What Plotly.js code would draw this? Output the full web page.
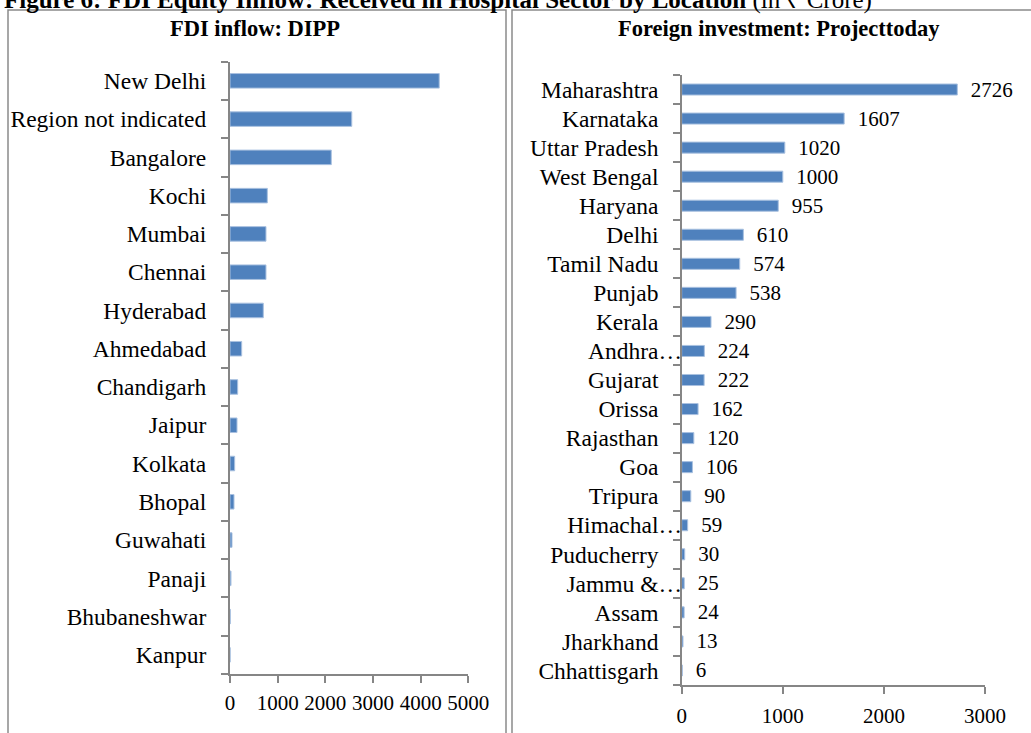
<!DOCTYPE html>
<html>
<head>
<meta charset="utf-8">
<script src="https://cdn.plot.ly/plotly-3.0.1.min.js"></script>
<style>html,body{margin:0;padding:0;background:#fff;}#chart{width:1031px;height:733px;}</style>
</head>
<body>
<div id="chart"></div>
<script>
// ---- Data ----
const dippCities = ["New Delhi","Region not indicated","Bangalore","Kochi","Mumbai","Chennai","Hyderabad","Ahmedabad","Chandigarh","Jaipur","Kolkata","Bhopal","Guwahati","Panaji","Bhubaneshwar","Kanpur"];
const dippValues = [4390, 2555, 2125, 783, 755, 755, 699, 245, 161, 147, 98, 84, 42, 21, 5, 2];

const ptStates = ["Maharashtra","Karnataka","Uttar Pradesh","West Bengal","Haryana","Delhi","Tamil Nadu","Punjab","Kerala","Andhra…","Gujarat","Orissa","Rajasthan","Goa","Tripura","Himachal…","Puducherry","Jammu &…","Assam","Jharkhand","Chhattisgarh"];
const ptValues = [2726, 1607, 1020, 1000, 955, 610, 574, 538, 290, 224, 222, 162, 120, 106, 90, 59, 30, 25, 24, 13, 6];

const dippTicks = [0, 1000, 2000, 3000, 4000, 5000];
const ptTicks = [0, 1000, 2000, 3000];

const figureTitle = "<b>Figure 6: FDI Equity Inflow: Received in Hospital Sector by Location</b> (in ₹ Crore)";
const leftTitle = "<b>FDI inflow: DIPP</b>";
const rightTitle = "<b>Foreign investment: Projecttoday</b>";

// ---- Layout helpers ----
const W = 1031, H = 733;
const px = v => v / W;
const py = v => 1 - v / H;
const FONT = "Liberation Serif, Times New Roman, serif";
const AXC = "#868686";
const BAR = "#4F81BD";
const CAT_SIZE = 23.5;
const NUM_SIZE = 21;

const traces = [
  {
    type: "bar", orientation: "h",
    x: dippValues, y: dippCities,
    xaxis: "x", yaxis: "y",
    marker: {color: BAR, line: {color: "#A9C1E0", width: 1}},
    hoverinfo: "x+y"
  },
  {
    type: "bar", orientation: "h",
    x: ptValues, y: ptStates,
    xaxis: "x2", yaxis: "y2",
    marker: {color: BAR, line: {color: "#A9C1E0", width: 1}},
    text: ptValues.map(String),
    texttemplate: "\u00a0\u00a0%{text}",
    textposition: "outside",
    constraintext: "none",
    cliponaxis: false,
    textfont: {family: FONT, size: NUM_SIZE, color: "#000"},
    hoverinfo: "x+y"
  }
];

const yCommon = {
  type: "category",
  autorange: "reversed",
  showline: true, linecolor: AXC, linewidth: 2,
  ticks: "outside", ticklen: 7, tickcolor: AXC, tickwidth: 2,
  tickson: "boundaries",
  showgrid: false, zeroline: false,
  tickfont: {family: FONT, size: CAT_SIZE, color: "#000"},
  fixedrange: true
};
const xCommon = {
  showline: true, linecolor: AXC, linewidth: 2,
  ticks: "outside", ticklen: 7, tickcolor: AXC, tickwidth: 2,
  showgrid: false, zeroline: false,
  tickfont: {family: FONT, size: NUM_SIZE, color: "#000"},
  fixedrange: true
};

const layout = {
  width: W, height: H,
  margin: {l: 0, r: 0, t: 0, b: 0},
  paper_bgcolor: "#fff", plot_bgcolor: "rgba(0,0,0,0)",
  showlegend: false,
  font: {family: FONT, color: "#000"},
  bargap: 0.62,
  xaxis: Object.assign({}, xCommon, {
    domain: [px(230), px(468.3)], anchor: "y",
    range: [0, 5000], tickvals: dippTicks, ticklabelstandoff: 2
  }),
  yaxis: Object.assign({}, yCommon, {
    domain: [py(674), py(61.7)], anchor: "x",
    tickvals: dippCities, ticktext: dippCities, ticklabelstandoff: 17
  }),
  xaxis2: Object.assign({}, xCommon, {
    domain: [px(681.7), px(985)], anchor: "y2",
    range: [0, 3000], tickvals: ptTicks, ticklabelstandoff: 4
  }),
  yaxis2: Object.assign({}, yCommon, {
    domain: [py(685), py(75)], anchor: "x2",
    tickvals: ptStates,
    ticktext: ptStates.map(s => s.endsWith("…") ? s : s + "\u2003"),
    ticklabelstandoff: -7
  }),
  shapes: [
    {type: "rect", xref: "paper", yref: "paper", x0: px(8), x1: px(506), y0: py(760), y1: py(10),
     line: {color: "#8a8a8a", width: 1.5}, fillcolor: "rgba(0,0,0,0)", layer: "below"},
    {type: "rect", xref: "paper", yref: "paper", x0: px(512), x1: px(1050), y0: py(760), y1: py(10),
     line: {color: "#8a8a8a", width: 1.5}, fillcolor: "rgba(0,0,0,0)", layer: "below"}
  ],
  annotations: [
    {text: figureTitle, xref: "paper", yref: "paper", x: px(2), y: py(0), xanchor: "left", yanchor: "middle",
     showarrow: false, font: {family: FONT, size: 25, color: "#000"}},
    {text: leftTitle, xref: "paper", yref: "paper", x: px(255), y: py(28), xanchor: "center", yanchor: "middle",
     showarrow: false, font: {family: FONT, size: 22.5, color: "#000"}},
    {text: rightTitle, xref: "paper", yref: "paper", x: px(779), y: py(29), xanchor: "center", yanchor: "middle",
     showarrow: false, font: {family: FONT, size: 22.5, color: "#000"}}
  ]
};

Plotly.newPlot("chart", traces, layout, {displayModeBar: false, staticPlot: false});
</script>
</body>
</html>
